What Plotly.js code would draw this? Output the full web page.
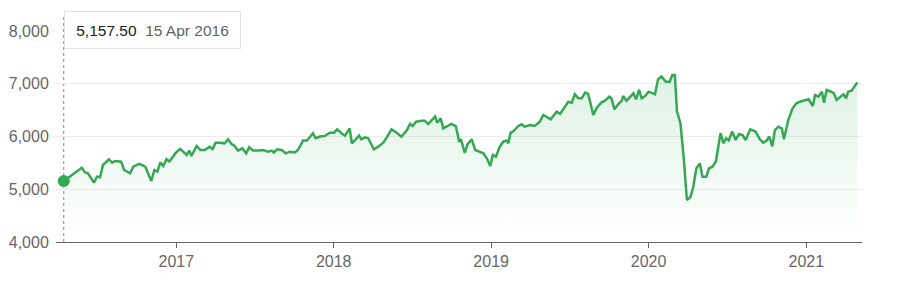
<!DOCTYPE html>
<html>
<head>
<meta charset="utf-8">
<script src="https://cdn.plot.ly/plotly-3.0.1.min.js"></script>
<style>
html,body{margin:0;padding:0;background:#fff;}
#chart{width:902px;height:284px;}
</style>
</head>
<body>
<div id="chart"></div>
<script>
// Weekly closing values
const dates = [
 '2016-04-15','2016-04-22','2016-05-06','2016-05-13','2016-05-20','2016-05-27','2016-06-03','2016-06-10','2016-06-24','2016-07-01','2016-07-08','2016-07-15','2016-07-29','2016-08-05','2016-08-12','2016-08-26','2016-09-02','2016-09-16','2016-09-23','2016-10-07','2016-10-21','2016-11-04','2016-11-11','2016-11-18','2016-11-25','2016-12-02','2016-12-09','2016-12-16','2016-12-30',
 '2017-01-10','2017-01-17','2017-01-25','2017-01-31','2017-02-05','2017-02-17','2017-02-26','2017-03-08','2017-03-19','2017-03-26','2017-04-02','2017-04-12','2017-04-23','2017-05-01','2017-05-09','2017-05-16','2017-05-24','2017-06-03','2017-06-12','2017-06-19','2017-06-28','2017-07-10','2017-07-21','2017-08-02','2017-08-10','2017-08-15','2017-08-23','2017-09-02','2017-09-12','2017-09-21','2017-10-03','2017-10-10','2017-10-22','2017-10-31','2017-11-06','2017-11-14','2017-11-20','2017-11-30','2017-12-11','2017-12-23',
 '2018-01-02','2018-01-09','2018-01-19','2018-01-27','2018-02-07','2018-02-12','2018-02-21','2018-03-01','2018-03-06','2018-03-14','2018-03-22','2018-03-26','2018-04-04','2018-04-14','2018-04-26','2018-05-05','2018-05-15','2018-05-27','2018-06-07','2018-06-19','2018-06-27','2018-07-03','2018-07-11','2018-07-24','2018-07-31','2018-08-08','2018-08-16','2018-08-24','2018-08-29','2018-09-06','2018-09-12','2018-09-21','2018-10-01','2018-10-11','2018-10-19','2018-10-23','2018-11-01','2018-11-07','2018-11-17','2018-11-25','2018-12-06','2018-12-14','2018-12-22','2018-12-30',
 '2019-01-05','2019-01-12','2019-01-21','2019-01-29','2019-02-06','2019-02-10','2019-02-15','2019-02-21','2019-03-05','2019-03-13','2019-03-20','2019-04-01','2019-04-12','2019-04-24','2019-05-02','2019-05-10','2019-05-19','2019-06-02','2019-06-10','2019-06-17','2019-06-29','2019-07-07','2019-07-14','2019-07-22','2019-07-30','2019-08-07','2019-08-14','2019-08-26','2019-09-03','2019-09-14','2019-09-22','2019-10-02','2019-10-07','2019-10-14','2019-10-23','2019-10-31','2019-11-03','2019-11-11','2019-11-19','2019-11-27','2019-12-03','2019-12-10','2019-12-16','2019-12-24',
 '2020-01-01','2020-01-08','2020-01-16','2020-01-23','2020-01-31','2020-02-10','2020-02-19','2020-02-25','2020-03-02','2020-03-07','2020-03-15','2020-03-23','2020-03-30','2020-04-07','2020-04-13','2020-04-21','2020-04-29','2020-05-05','2020-05-14','2020-05-20','2020-05-28','2020-06-05','2020-06-16','2020-06-23','2020-06-29','2020-07-05','2020-07-13','2020-07-21','2020-07-29','2020-08-06','2020-08-13','2020-08-24','2020-09-05','2020-09-15','2020-09-23','2020-10-01','2020-10-07','2020-10-14','2020-10-20','2020-10-28','2020-11-05','2020-11-10','2020-11-20','2020-11-30','2020-12-09','2020-12-17','2020-12-29',
 '2021-01-06','2021-01-16','2021-01-21','2021-01-29','2021-02-06','2021-02-11','2021-02-17','2021-02-27','2021-03-06','2021-03-12','2021-03-20','2021-03-28','2021-04-03','2021-04-08','2021-04-16','2021-04-24','2021-04-29'
];
const values = [
 5157.5,5200,5290,5330,5370,5409,5321,5302,5125,5239,5226,5460,5568,5503,5535,5522,5365,5302,5428,5479,5428,5156,5365,5333,5510,5441,5568,5526,5684,
 5763,5712,5650,5733,5630,5820,5744,5744,5807,5763,5882,5882,5870,5946,5858,5820,5733,5776,5681,5795,5733,5733,5744,5712,5733,5697,5757,5744,5681,5712,5697,5744,5924,5924,5981,6063,5970,6000,6010,6073,
 6073,6136,6063,6016,6155,5871,5946,6016,5946,5984,5966,5902,5757,5807,5882,5996,6136,6073,5996,6111,6237,6199,6281,6300,6300,6237,6313,6376,6262,6345,6155,6199,6237,6199,5902,5947,5690,5850,5946,5744,5712,5681,5586,5441,
 5650,5618,5807,5902,5924,5871,6073,6095,6199,6231,6186,6218,6199,6281,6408,6363,6325,6471,6430,6515,6660,6641,6800,6724,6724,6832,6806,6408,6547,6648,6679,6755,6724,6515,6616,6679,6768,6679,6743,6818,6705,6882,6724,6768,
 6850,6832,6800,7084,7137,7040,7040,7166,7166,6471,6251,5555,4796,4847,5018,5397,5491,5239,5239,5397,5428,5522,6063,5871,5966,5924,6095,5934,6047,6028,5934,6136,6095,5950,5882,5924,6000,5811,6123,6186,6155,5947,6313,6535,6629,6660,6679,
 6705,6578,6787,6755,6850,6641,6882,6850,6818,6692,6755,6800,6724,6850,6869,6958,7027
];
const yTicks = [4000, 5000, 6000, 7000, 8000];
const yTickLabels = ['4,000', '5,000', '6,000', '7,000', '8,000'];
const xTicks = ['2017-01-01', '2018-01-01', '2019-01-01', '2020-01-01', '2021-01-01'];
const xTickLabels = ['2017', '2018', '2019', '2020', '2021'];
const hoverValue = '5,157.50';
const hoverDate = '15 Apr 2016';

const green = 'rgb(52,168,83)';

const traces = [
  {
    x: dates, y: values, type: 'scatter', mode: 'lines',
    line: {color: green, width: 2.5},
    fill: 'tozeroy',
    fillgradient: {
      type: 'vertical', start: 4000, stop: 7200,
      colorscale: [[0, 'rgba(52,168,83,0)'], [1, 'rgba(52,168,83,0.16)']]
    },
    hoverinfo: 'skip'
  },
  {
    x: [dates[0]], y: [values[0]], type: 'scatter', mode: 'markers',
    marker: {color: green, size: 12},
    hoverinfo: 'skip'
  }
];

const layout = {
  width: 902, height: 284,
  margin: {l: 56, r: 40, t: 31, b: 42},
  paper_bgcolor: '#fff', plot_bgcolor: '#fff',
  showlegend: false,
  font: {family: 'Arial, "Liberation Sans", sans-serif', color: '#666', size: 16},
  xaxis: {
    type: 'date',
    range: ['2016-03-28', '2021-05-10'],
    tickvals: xTicks, ticktext: xTickLabels,
    showgrid: false, zeroline: false,
    showline: true, linecolor: '#666', linewidth: 1,
    ticks: 'outside', ticklen: 5, tickcolor: '#666', tickwidth: 1,
    tickfont: {size: 16, color: '#666'}
  },
  yaxis: {
    range: [4000, 8000],
    tickvals: yTicks, ticktext: yTickLabels,
    showgrid: true, gridcolor: '#ececec', gridwidth: 1,
    zeroline: false, showline: false,
    ticks: 'outside', ticklen: 3, tickcolor: '#ececec',
    ticklabelstandoff: 0,
    tickfont: {size: 16, color: '#666'}
  },
  shapes: [
    {type: 'line', xref: 'x', yref: 'paper', x0: dates[0], x1: dates[0], y0: 0, y1: 1.08,
     line: {color: '#888', width: 1, dash: '3px,3px'}, layer: 'below'}
  ],
  annotations: [
    {
      xref: 'x', yref: 'paper', x: dates[0], y: 1.005, xanchor: 'left', yanchor: 'middle',
      text: hoverValue + '  <span style="color:#5f6368">' + hoverDate + '</span>',
      showarrow: false, bgcolor: '#fff', bordercolor: '#e2e2e2', borderwidth: 1,
      width: 173, height: 34, align: 'center',
      font: {family: 'Arial, "Liberation Sans", sans-serif', size: 15.5, color: '#202124'}
    }
  ]
};

Plotly.newPlot('chart', traces, layout, {displayModeBar: false, staticPlot: true});
</script>
</body>
</html>
